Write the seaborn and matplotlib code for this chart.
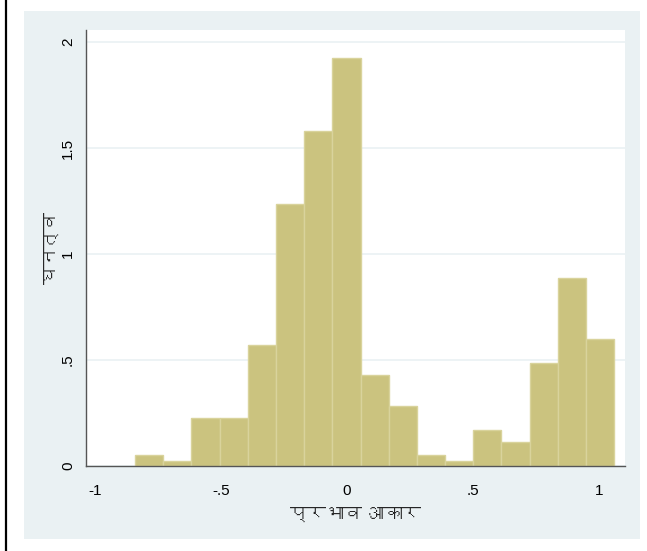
import matplotlib
matplotlib.use("Agg")
import matplotlib.pyplot as plt
from matplotlib import font_manager
from matplotlib.ft2font import FT2Font
from matplotlib.lines import Line2D
from matplotlib.patches import Rectangle
import seaborn as sns

# histogram bins (effect size) and densities
bin_start = -0.841
bin_width = 0.1118
densities = [0.050, 0.024, 0.225, 0.225, 0.571, 1.236, 1.580, 1.923, 0.428,
             0.283, 0.050, 0.024, 0.168, 0.112, 0.484, 0.885, 0.597]
x_ticks = [-1, -0.5, 0, 0.5, 1]
x_tick_labels = ["-1", "-.5", "0", ".5", "1"]
y_ticks = [0, 0.5, 1, 1.5, 2]
y_tick_labels = ["0", ".5", "1", "1.5", "2"]
x_label = "प्रभाव आकार"
y_label = "घनत्व"

edges = [bin_start + i * bin_width for i in range(len(densities) + 1)]
centers = [(edges[i] + edges[i + 1]) / 2 for i in range(len(densities))]

sns.set_theme(style="white")


def find_devanagari_font():
    for f in font_manager.fontManager.ttflist:
        try:
            cmap = FT2Font(f.fname).get_charmap()
        except Exception:
            continue
        if 0x092A in cmap and 0x0918 in cmap:
            return f.name
    return None


deva = find_devanagari_font()
families = ["Liberation Sans", "DejaVu Sans"]
if deva:
    families = ["Liberation Sans", deva, "DejaVu Sans"]
plt.rcParams["font.family"] = families

bar_color = "#cbc37f"
edge_color = "#d9d39c"
region_color = "#eaf1f3"
axis_color = "#555555"

fig = plt.figure(figsize=(6.47, 5.51), dpi=100)
fig.patch.set_facecolor("white")
# light graph region behind the plot
fig.patches.append(Rectangle((24 / 647, 1 - 539 / 551), 616 / 647, 528 / 551,
                             transform=fig.transFigure, facecolor=region_color,
                             edgecolor="none", zorder=-5))
# black frame line on the left
fig.lines.append(Line2D([6 / 647, 6 / 647], [0, 1], transform=fig.transFigure,
                        color="black", linewidth=1.6, zorder=-5))

ax = fig.add_axes([86 / 647, 85 / 551, 539 / 647, 436 / 551])
ax.set_facecolor("white")

sns.histplot(x=centers, weights=densities, bins=edges, stat="count",
             color=bar_color, edgecolor=edge_color, linewidth=1.0,
             alpha=1.0, ax=ax, zorder=2)

ax.set_xlim(-1.036, 1.103)
ax.set_ylim(0, 2.057)
ax.set_xticks(x_ticks)
ax.set_xticklabels(x_tick_labels, fontsize=11)
ax.set_yticks(y_ticks)
ax.set_yticklabels(y_tick_labels, fontsize=11, rotation=90, va="center")
ax.yaxis.grid(True, color=region_color, linewidth=1.2, zorder=0)
ax.set_axisbelow(True)

for side in ["top", "right"]:
    ax.spines[side].set_visible(False)
for side in ["left", "bottom"]:
    ax.spines[side].set_color(axis_color)
    ax.spines[side].set_linewidth(1.0)
ax.tick_params(axis="both", direction="out", length=5, width=1,
               color=axis_color, labelcolor="black")
ax.tick_params(axis="x", pad=8)
ax.tick_params(axis="y", pad=3)

ax.set_xlabel(x_label, fontsize=13, labelpad=6)
ax.set_ylabel(y_label, fontsize=13, labelpad=0)

fig.savefig("out.png", dpi=100, facecolor=fig.get_facecolor())
